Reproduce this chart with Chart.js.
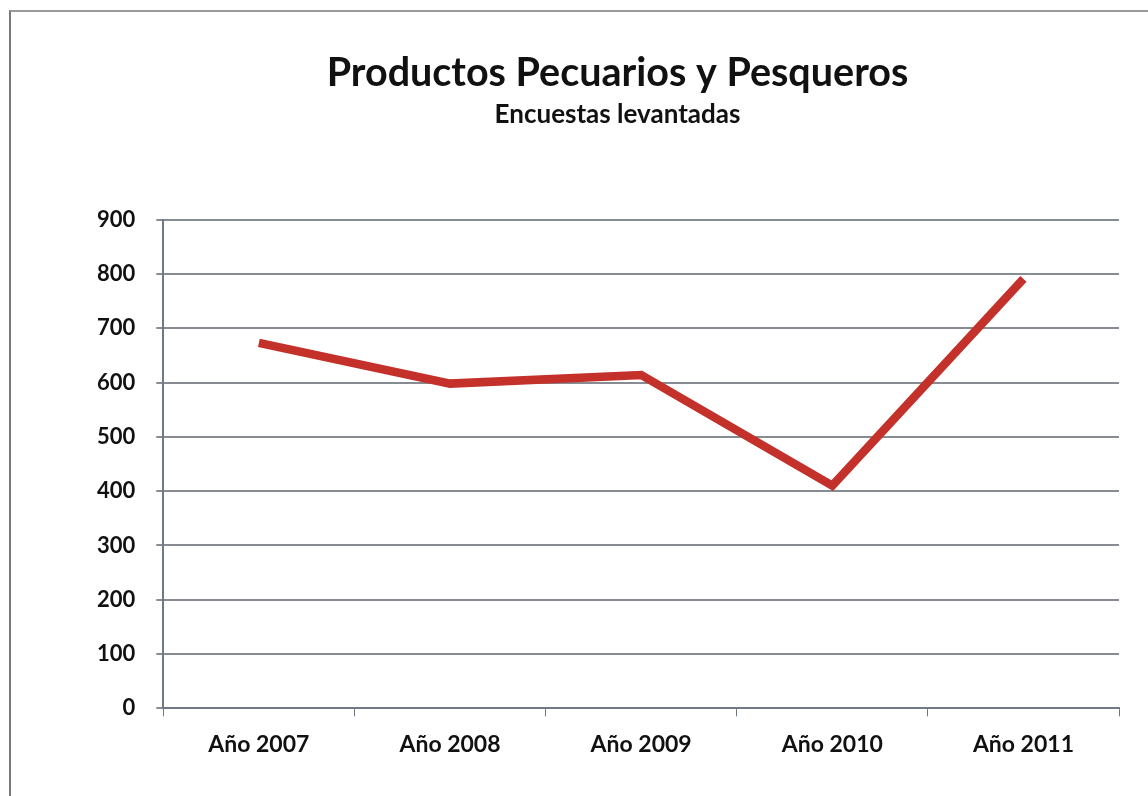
<!DOCTYPE html>
<html lang="es">
<head>
    <meta charset="UTF-8">
    <title>Productos Pecuarios y Pesqueros</title>
    <script src="https://cdn.jsdelivr.net/npm/chart.js"></script>
    <style>
        html, body {
            margin: 0;
            padding: 0;
            background: #fff;
        }
        .marco {
            position: absolute;
            left: 9px;
            top: 10px;
            right: 0;
            bottom: 0;
            border-left: 2px solid #7a7a7a;
            border-top: 2px solid #9a9a9a;
        }
        .lienzo {
            position: absolute;
            left: 0;
            top: 0;
            width: 1148px;
            height: 796px;
        }
    </style>
</head>
<body>
    <div class="marco"></div>
    <div class="lienzo">
        <canvas id="grafico"></canvas>
    </div>

    <script>
        // Datos
        const anios = ['Año 2007', 'Año 2008', 'Año 2009', 'Año 2010', 'Año 2011'];
        const encuestas = [673, 598, 614, 410, 791];
        const ticksY = [0, 100, 200, 300, 400, 500, 600, 700, 800, 900];

        const fuente = 'Lato, "Open Sans", sans-serif';
        const ctx = document.getElementById('grafico').getContext('2d');

        // En el original el título queda un poco a la derecha del centro
        const desplazarTitulos = {
            id: 'desplazarTitulos',
            afterLayout(chart) {
                chart.boxes
                    .filter(b => b.position === 'top' && b.fullSize)
                    .forEach(b => {
                        b.left += 20;
                        b.right += 20;
                    });
            }
        };

        new Chart(ctx, {
            type: 'line',
            data: {
                labels: anios,
                datasets: [{
                    label: 'Encuestas levantadas',
                    data: encuestas,
                    borderColor: '#c3312a',
                    borderWidth: 8.5,
                    pointRadius: 0,
                    tension: 0,
                    fill: false
                }]
            },
            options: {
                responsive: true,
                maintainAspectRatio: false,
                animation: false,
                layout: {
                    padding: { left: 76, right: 29, top: 50, bottom: 24 }
                },
                scales: {
                    x: {
                        offset: true,
                        grid: {
                            display: true,
                            offset: true,
                            drawOnChartArea: false,
                            color: '#6f7a86',
                            tickLength: 8
                        },
                        border: { color: '#6f7a86', width: 2 },
                        ticks: {
                            color: '#111',
                            padding: 14,
                            font: { family: fuente, size: 23, weight: 'bold' }
                        }
                    },
                    y: {
                        min: 0,
                        max: 900,
                        afterBuildTicks: axis => {
                            axis.ticks = ticksY.map(v => ({ value: v }));
                        },
                        grid: {
                            color: '#878c92',
                            lineWidth: 2,
                            tickLength: 7
                        },
                        border: { color: '#6f7a86', width: 2 },
                        ticks: {
                            color: '#111',
                            padding: 21,
                            font: { family: fuente, size: 22, weight: 'bold' }
                        }
                    }
                },
                plugins: {
                    legend: { display: false },
                    tooltip: { enabled: false },
                    title: {
                        display: true,
                        text: 'Productos Pecuarios y Pesqueros',
                        color: '#111',
                        font: { family: fuente, size: 39.5, weight: 'bold' },
                        padding: { top: 0, bottom: 2 }
                    },
                    subtitle: {
                        display: true,
                        text: 'Encuestas levantadas',
                        color: '#111',
                        font: { family: fuente, size: 26, weight: 'bold' },
                        padding: { top: 0, bottom: 89 }
                    }
                }
            },
            plugins: [desplazarTitulos]
        });
    </script>
</body>
</html>
